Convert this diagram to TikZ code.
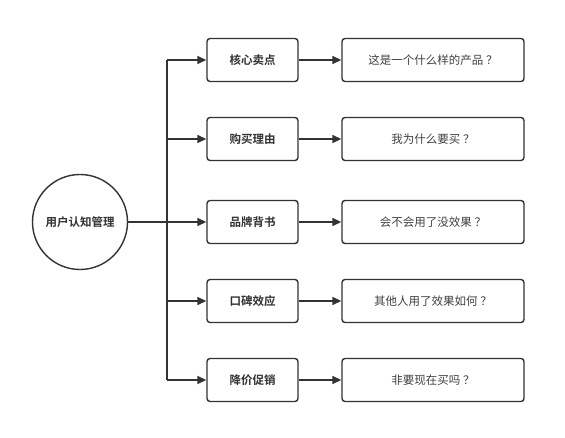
\documentclass[tikz,border=0pt]{standalone}
\usepackage{fontspec}
\newfontfamily\cjk{Noto Sans CJK SC}
\newfontfamily\cjkb{Noto Sans CJK SC Bold}
\usetikzlibrary{arrows.meta}
\newcommand{\qm}{\hspace{3pt}？}
\begin{document}
\begin{tikzpicture}[x=1pt,y=-1pt,
  line/.style={draw=black!80,line width=1.4pt},
  arr/.style={line,-{Triangle[length=9pt,width=8pt]}},
  mid/.style={line,rounded corners=3pt,minimum width=91pt,minimum height=43pt,inner sep=0pt,font=\cjkb\fontsize{11.5}{13}\selectfont,text=black!80},
  rgt/.style={line,rounded corners=3pt,minimum width=182pt,minimum height=43pt,inner sep=0pt,font=\cjk\fontsize{11.5}{13}\selectfont,text=black!75}]
\path[use as bounding box,fill=white] (0,0) rectangle (565,438);
\node[line,circle,minimum size=95pt,inner sep=0pt,font=\cjkb\fontsize{11.5}{13}\selectfont,text=black!80] (root) at (80,222) {用户认知管理};
\coordinate (t1) at (167,60);
\coordinate (t5) at (167,380);
\coordinate (tm) at (167,222);
\node[mid] (m1) at (252.5,60) {核心卖点};
\node[mid] (m2) at (252.5,139) {购买理由};
\node[mid] (m3) at (252.5,222) {品牌背书};
\node[mid] (m4) at (252.5,301) {口碑效应};
\node[mid] (m5) at (252.5,380) {降价促销};
\node[rgt] (r1) at (433,60) {这是一个什么样的产品\qm};
\node[rgt] (r2) at (433,139) {我为什么要买\qm};
\node[rgt] (r3) at (433,222) {会不会用了没效果\qm};
\node[rgt] (r4) at (433,301) {其他人用了效果如何\qm};
\node[rgt] (r5) at (433,380) {非要现在买吗\qm};
\draw[line] (root.east) -- (tm);
\draw[line] (t1) -- (t5);
\foreach \i in {1,...,5} {
  \draw[arr] (t1 |- m\i.west) -- (m\i.west);
  \draw[arr] (m\i.east) -- (r\i.west);
}
\end{tikzpicture}
\end{document}
